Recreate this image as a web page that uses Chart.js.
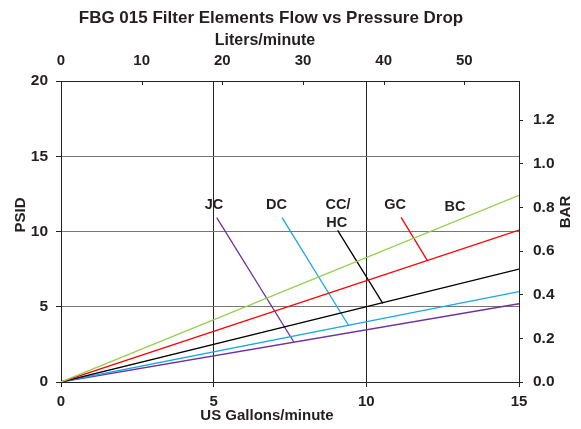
<!DOCTYPE html>
<html>
<head>
<meta charset="utf-8">
<title>FBG 015 Filter Elements Flow vs Pressure Drop</title>
<script src="https://cdn.jsdelivr.net/npm/chart.js@4/dist/chart.umd.min.js"></script>
<style>
	html, body { margin: 0; padding: 0; background: #fff; }
	#wrap { width: 581px; height: 429px; }
</style>
</head>
<body>
<div id="wrap"><canvas id="chart" width="581" height="429"></canvas></div>
<script>
// flow in US gal/min, pressure drop in psid
const flowRange = [0, 15];
const psidRange = [0, 20];
const elements = ['BC', 'GC', 'CC/HC', 'DC', 'JC'];
const psidAt15gpm = [12.4, 10.1, 7.5, 6.0, 5.2];
const lineColors = ['#92d050', '#ff0000', '#000000', '#1aa7e0', '#7030a0'];

// tick labels on the secondary axes
const lpmTicks = [0, 10, 20, 30, 40, 50];
const barTicks = [0, 0.2, 0.4, 0.6, 0.8, 1.0, 1.2];

// leader lines from the labels down to the curves [x1, y1, x2, y2]
const leaderLines = [
	[11.14, 10.94, 12.0, 8.06],
	[9.06, 10.08, 10.54, 5.23],
	[7.24, 10.92, 9.43, 3.72],
	[5.10, 10.92, 7.63, 2.64],
];
const leaderColors = ['#ff0000', '#000000', '#1aa7e0', '#7030a0'];

// label text and where it sits, in data units
const labelText = ['JC', 'DC', 'CC/', 'HC', 'GC', 'BC'];
const labelX = [5.01, 7.06, 9.07, 9.03, 10.94, 12.9];
const labelY = [11.76, 11.76, 11.76, 10.54, 11.76, 11.65];

const LPM_PER_GPM = 3.78541;
const BAR_PER_PSI = 0.0689476;

const FONT = '"Liberation Sans", Arial, Helvetica, sans-serif';
const INK = '#231f20';

const datasets = [];
elements.forEach((name, i) => {
	datasets.push({
		label: name,
		data: [{ x: 0, y: 0 }, { x: flowRange[1], y: psidAt15gpm[i] }],
		borderColor: lineColors[i],
		borderWidth: 1.3,
		pointRadius: 0,
		fill: false,
	});
});
leaderLines.forEach((l, i) => {
	datasets.push({
		label: 'leader ' + i,
		data: [{ x: l[0], y: l[1] }, { x: l[2], y: l[3] }],
		borderColor: leaderColors[i],
		borderWidth: 1.3,
		pointRadius: 0,
		fill: false,
	});
});

const textPlugin = {
	id: 'texts',
	afterDraw(chart) {
		const ctx = chart.ctx;
		const xs = chart.scales.x;
		const ys = chart.scales.y;
		ctx.save();
		ctx.fillStyle = INK;
		ctx.textAlign = 'center';
		ctx.textBaseline = 'middle';

		ctx.font = 'bold 17px ' + FONT;
		ctx.fillText('FBG 015 Filter Elements Flow vs Pressure Drop', 271, 18);
		ctx.font = 'bold 16px ' + FONT;
		ctx.fillText('Liters/minute', 265, 41);
		ctx.font = 'bold 15px ' + FONT;
		ctx.fillText('US Gallons/minute', 267, 416);

		ctx.save();
		ctx.translate(21, 215);
		ctx.rotate(-Math.PI / 2);
		ctx.fillText('PSID', 0, 0);
		ctx.restore();
		ctx.save();
		ctx.translate(566, 212);
		ctx.rotate(-Math.PI / 2);
		ctx.fillText('BAR', 0, 0);
		ctx.restore();

		ctx.font = 'bold 14.5px ' + FONT;
		labelText.forEach((t, i) => {
			ctx.fillText(t, xs.getPixelForValue(labelX[i]), ys.getPixelForValue(labelY[i]));
		});

		// small inward tick marks on the top axis
		const top = chart.scales.x2;
		ctx.strokeStyle = '#222';
		ctx.lineWidth = 1;
		top.ticks.forEach(t => {
			const px = Math.round(top.getPixelForValue(t.value)) + 0.5;
			ctx.beginPath();
			ctx.moveTo(px, chart.chartArea.top);
			ctx.lineTo(px, chart.chartArea.top + 4);
			ctx.stroke();
		});
		ctx.restore();
	},
};

new Chart(document.getElementById('chart'), {
	type: 'line',
	data: { datasets: datasets },
	plugins: [textPlugin],
	options: {
		responsive: false,
		animation: false,
		layout: { padding: 0 },
		plugins: {
			legend: { display: false },
			title: { display: false },
			tooltip: { enabled: false },
		},
		scales: {
			x: {
				type: 'linear',
				position: 'bottom',
				min: flowRange[0],
				max: flowRange[1],
				afterFit: s => { s.height = 47; },
				ticks: { stepSize: 5, padding: 6, color: INK, font: { family: FONT, size: 15, weight: 'bold' } },
				grid: { color: '#222', lineWidth: 1, tickLength: 5 },
				border: { color: '#222' },
			},
			x2: {
				type: 'linear',
				position: 'top',
				min: flowRange[0] * LPM_PER_GPM,
				max: flowRange[1] * LPM_PER_GPM,
				afterBuildTicks: s => { s.ticks = lpmTicks.map(v => ({ value: v })); },
				afterFit: s => { s.height = 81; },
				ticks: { padding: 11, color: INK, font: { family: FONT, size: 15, weight: 'bold' } },
				grid: { drawOnChartArea: false, drawTicks: false },
				border: { color: '#222' },
			},
			y: {
				type: 'linear',
				position: 'left',
				min: psidRange[0],
				max: psidRange[1],
				afterFit: s => { s.width = 61; },
				ticks: { stepSize: 5, padding: 8, color: INK, font: { family: FONT, size: 15.5, weight: 'bold' } },
				grid: {
					color: c => (c.tick && c.tick.value === psidRange[1] ? '#222' : '#777'),
					lineWidth: 1,
					tickLength: 5,
					tickColor: '#222',
				},
				border: { color: '#222' },
			},
			y2: {
				type: 'linear',
				position: 'right',
				min: psidRange[0] * BAR_PER_PSI,
				max: psidRange[1] * BAR_PER_PSI,
				afterBuildTicks: s => { s.ticks = barTicks.map(v => ({ value: v })); },
				afterFit: s => { s.width = 62; },
				ticks: {
					padding: 10,
					color: INK,
					font: { family: FONT, size: 15.5, weight: 'bold' },
					callback: v => v.toFixed(1),
				},
				grid: { drawOnChartArea: false, tickLength: 4, color: '#222' },
				border: { color: '#222' },
			},
		},
	},
});
</script>
</body>
</html>
